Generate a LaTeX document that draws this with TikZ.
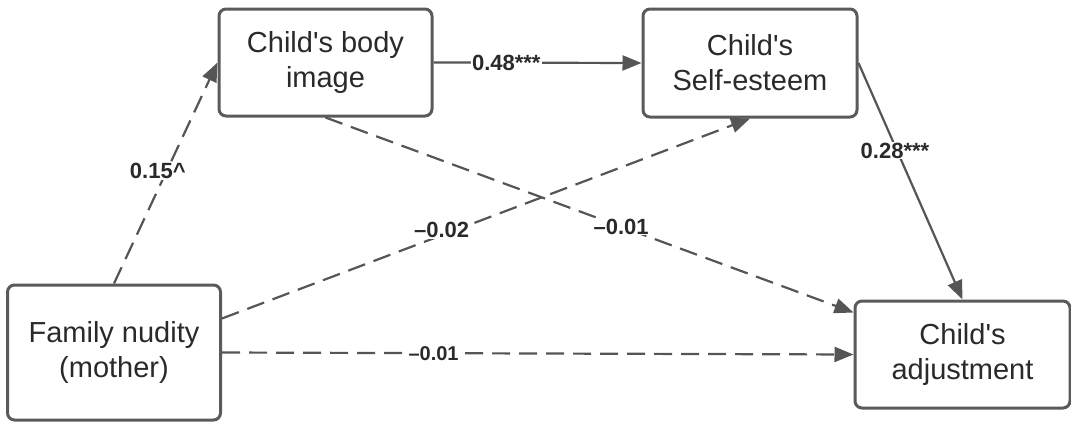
\documentclass[tikz,border=0pt]{standalone}
\usepackage{fontspec}
\setmainfont{Liberation Sans}
\usetikzlibrary{arrows.meta}
\definecolor{boxc}{HTML}{5A5A5A}
\definecolor{linec}{HTML}{555555}
\definecolor{txtc}{HTML}{2A2A2A}
\newcommand{\apo}{\textquotesingle}
\tikzset{
  varbox/.style={draw=boxc, line width=3pt, rounded corners=7pt, fill=white,
    align=center, text=txtc, font=\fontsize{29}{35}\selectfont, inner sep=0pt},
  path/.style={draw=linec, line width=2.2pt, -{Triangle[length=19pt,width=15pt]}},
  dpath/.style={path, dash pattern=on 18pt off 9pt},
  lab/.style={fill=white, text=txtc, font=\fontsize{22}{26}\selectfont\bfseries, inner sep=1pt},
}
\begin{document}
\begin{tikzpicture}[x=1pt,y=-1pt]
\useasboundingbox (0,0) rectangle (1071,423);
\node[varbox, minimum width=213pt, minimum height=135pt] (fam) at (114,352.5) {Family nudity\\(mother)};
\node[varbox, minimum width=213pt, minimum height=107pt] (body) at (325.5,62.5) {Child\apo s body\\image};
\node[varbox, minimum width=214pt, minimum height=108pt] (self) at (750,63) {Child\apo s\\Self-esteem};
\node[varbox, minimum width=215pt, minimum height=107pt] (adj) at (962.5,354.5) {Child\apo s\\adjustment};

\draw[dpath] (fam.north) -- node[lab, pos=0.51, xshift=-9pt] (l1) {0.15\textasciicircum} (body.west);
\draw[path] (body.east) -- node[lab, pos=0.35] (l2) {0.48***} (self.west);
\draw[path] (self.east) -- node[lab, pos=0.37, xshift=-2pt] (l3) {0.28***} (adj.north);
\draw[dpath] ([yshift=34pt]fam.east) -- node[lab, pos=0.416, yshift=5pt] (l4) {–0.02} (self.south);
\draw[dpath] (body.south) -- node[lab, pos=0.56] (l5) {–0.01} ([yshift=42pt]adj.west);
\draw[dpath] (fam.east) -- node[lab, pos=0.335, font=\fontsize{20}{24}\selectfont\bfseries] (l6) {–0.01} (adj.west);
\end{tikzpicture}
\end{document}
